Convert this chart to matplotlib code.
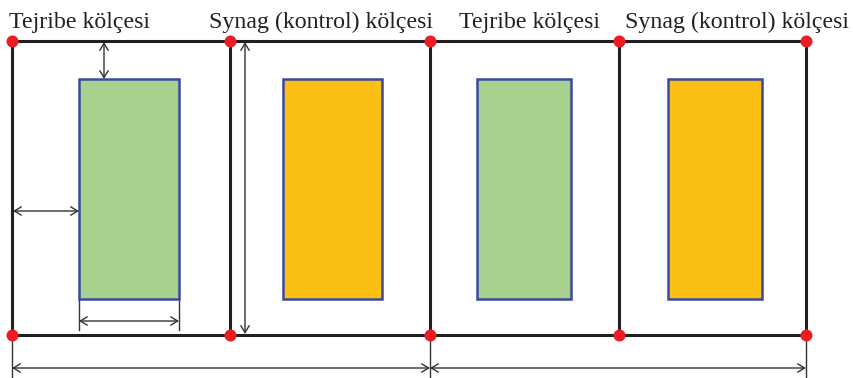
import matplotlib.pyplot as plt
from matplotlib.patches import Rectangle

# plot layout in pixel units (y grows downwards)
plot_edges = [12, 230, 430, 619, 806]      # vertical border lines of the plots
plot_top, plot_bottom = 41, 335

# inner (harvest) areas: x0, x1, colour
inner_x0 = [79, 283, 477, 668]
inner_x1 = [179, 382, 571, 762]
inner_colors = ["#a9d18e", "#fcc014", "#a9d18e", "#fcc014"]
inner_top, inner_bottom = 79, 299

labels = ["Tejribe kölçesi", "Synag (kontrol) kölçesi",
          "Tejribe kölçesi", "Synag (kontrol) kölçesi"]
label_x = [9, 209, 459, 625]

fig = plt.figure(figsize=(8.54, 3.78), dpi=100)
ax = fig.add_axes([0, 0, 1, 1])
ax.set_xlim(0, 854)
ax.set_ylim(378, 0)
ax.axis("off")

frame = "#231f20"
dim = "#333333"

# outer frame
ax.plot([plot_edges[0], plot_edges[-1]], [plot_top, plot_top], color=frame, lw=2.2, zorder=2)
ax.plot([plot_edges[0], plot_edges[-1]], [plot_bottom, plot_bottom], color=frame, lw=2.2, zorder=2)
for x in plot_edges:
    ax.plot([x, x], [plot_top, plot_bottom], color=frame, lw=2.2, zorder=2)

# inner rectangles
for x0, x1, c in zip(inner_x0, inner_x1, inner_colors):
    ax.add_patch(Rectangle((x0, inner_top), x1 - x0, inner_bottom - inner_top,
                           facecolor=c, edgecolor="#3b48a0", lw=1.8, zorder=3))

# corner points
for x in plot_edges:
    ax.scatter([x, x], [plot_top, plot_bottom], s=75, color="#ed1c24", zorder=5, linewidths=0)

# labels
for x, t in zip(label_x, labels):
    ax.text(x, 28, t, fontsize=17.2, family="Liberation Serif", color="#231f20",
            ha="left", va="baseline")


def dim_arrow(p1, p2):
    ax.annotate("", xy=p2, xytext=p1,
                arrowprops=dict(arrowstyle="<->,head_length=0.5,head_width=0.3",
                                color=dim, lw=1.0, shrinkA=0, shrinkB=0), zorder=4)


# dimension arrows
dim_arrow((104, plot_top + 1), (104, inner_top))
dim_arrow((plot_edges[0] + 1, 211), (inner_x0[0], 211))
dim_arrow((inner_x0[0], 321), (inner_x1[0], 321))
dim_arrow((245, plot_top + 1), (245, plot_bottom - 1))
dim_arrow((plot_edges[0], 368), (plot_edges[2], 368))
dim_arrow((plot_edges[2], 368), (plot_edges[4], 368))

# extension lines
for x in inner_x0[:1] + inner_x1[:1]:
    ax.plot([x, x], [inner_bottom, 330], color=dim, lw=1.0, zorder=1)
for x in [plot_edges[0], plot_edges[2], plot_edges[4]]:
    ax.plot([x, x], [plot_bottom, 378], color=dim, lw=1.0, zorder=1)

fig.savefig("out.png", dpi=100)
